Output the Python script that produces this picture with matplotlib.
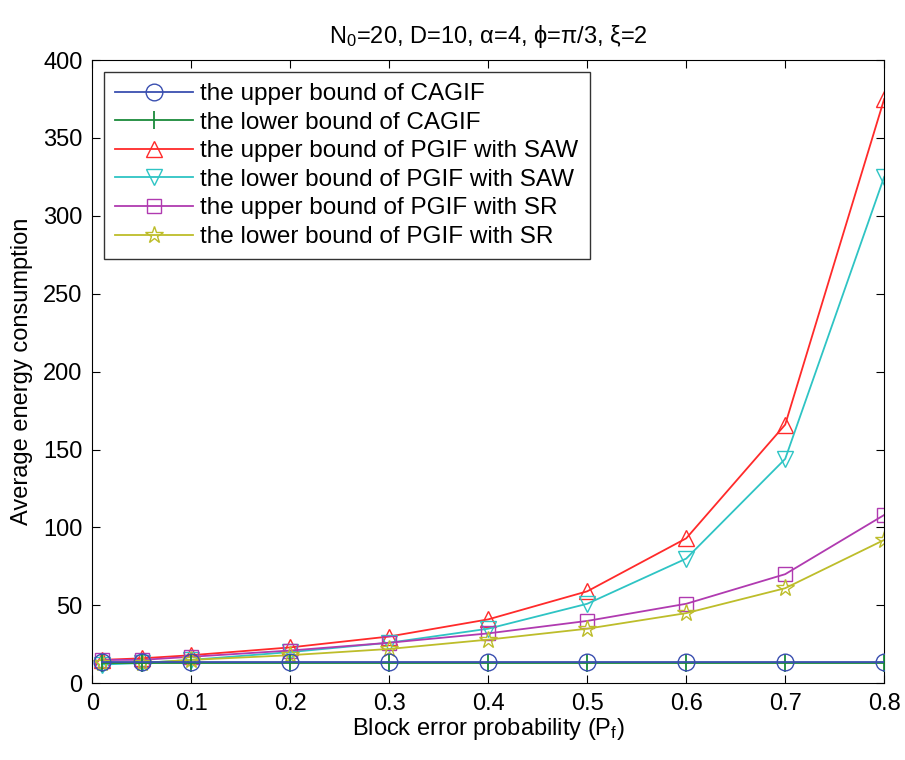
import matplotlib
matplotlib.use('Agg')
import matplotlib.pyplot as plt

plt.rcParams['font.family'] = ['Liberation Sans', 'DejaVu Sans']
plt.rcParams['mathtext.fontset'] = 'custom'
plt.rcParams['mathtext.rm'] = 'Liberation Sans'
plt.rcParams['mathtext.it'] = 'Liberation Sans'

# block error probability
pf = [0.01, 0.05, 0.1, 0.2, 0.3, 0.4, 0.5, 0.6, 0.7, 0.8]

cagif_upper = [13.5, 13.5, 13.5, 13.5, 13.5, 13.5, 13.5, 13.5, 13.5, 13.5]
cagif_lower = [13, 13, 13, 13, 13, 13, 13, 13, 13, 13]
saw_upper = [15, 16, 18, 23, 30, 41, 59, 93, 166, 375]
saw_lower = [12, 13, 15, 20, 26, 35, 51, 80, 144, 325]
sr_upper = [15, 15, 17, 21, 26, 32, 40, 51, 70, 108]
sr_lower = [13, 13, 15, 18, 22, 28, 35, 45, 61, 92]

labels = ['the upper bound of CAGIF', 'the lower bound of CAGIF',
          'the upper bound of PGIF with SAW', 'the lower bound of PGIF with SAW',
          'the upper bound of PGIF with SR', 'the lower bound of PGIF with SR']

fs = 17

fig = plt.figure(figsize=(9.05, 7.6), dpi=100)
ax = fig.add_axes([0.102, 0.101, 0.875, 0.82])

ax.plot(pf, cagif_upper, color='#3a4fb0', marker='o', ms=12, mfc='none', lw=1.3, label=labels[0], zorder=4)
ax.plot(pf, cagif_lower, color='#1a8a3a', marker='|', ms=13, mew=1.3, lw=1.3, label=labels[1], zorder=3)
ax.plot(pf, saw_upper, color='#ff2a2a', marker='^', ms=12, mfc='none', lw=1.3, label=labels[2])
ax.plot(pf, saw_lower, color='#2ec4c4', marker='v', ms=12, mfc='none', lw=1.3, label=labels[3])
ax.plot(pf, sr_upper, color='#b03ab0', marker='s', ms=10, mfc='none', lw=1.3, label=labels[4])
ax.plot(pf, sr_lower, color='#bdbd2a', marker='*', ms=13, mfc='none', lw=1.3, label=labels[5])

ax.set_xlim(0, 0.8)
ax.set_ylim(0, 400)
ax.set_xticks([0, 0.1, 0.2, 0.3, 0.4, 0.5, 0.6, 0.7, 0.8])
ax.set_xticklabels(['0', '0.1', '0.2', '0.3', '0.4', '0.5', '0.6', '0.7', '0.8'])
ax.set_yticks(range(0, 401, 50))
ax.tick_params(direction='in', length=6, labelsize=fs, top=True, right=True, pad=7)

ax.set_xlabel('Block error probability (P$_{\\mathrm{f}}$)', fontsize=fs, labelpad=1)
ax.set_ylabel('Average energy consumption', fontsize=fs, labelpad=7)
ax.set_title('N$_0$=20, D=10, \u03b1=4, \u03d5=\u03c0/3, \u03be=2', fontsize=fs, pad=12)

leg = ax.legend(loc='upper left', fontsize=17.5, fancybox=False, edgecolor='black',
                handlelength=3.2, borderaxespad=0.5, labelspacing=0.27,
                handletextpad=0.3, borderpad=0.45)
leg.get_frame().set_linewidth(1.0)

fig.savefig('out.png', dpi=100)
